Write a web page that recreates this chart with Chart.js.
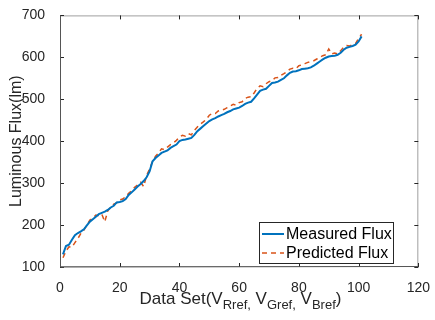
<!DOCTYPE html>
<html>
<head>
<meta charset="utf-8">
<script src="https://cdn.jsdelivr.net/npm/chart.js@4.4.1/dist/chart.umd.min.js"></script>
<style>
  html, body { margin:0; padding:0; background:#fff; }
  #wrap { position:relative; width:435px; height:320px; }
  #xTitle { position:absolute; left:60px; width:361px; top:289px; text-align:center;
    font-family:"Liberation Sans", Arial, sans-serif; font-size:17px; color:#262626; white-space:nowrap; }
  #xTitle sub { font-size:13px; vertical-align:-5px; line-height:0; }
</style>
</head>
<body>
<div id="wrap">
  <canvas id="c" width="435" height="320"></canvas>
  <div id="xTitle">Data Set(V<sub>Rref,</sub> V<sub>Gref,</sub> V<sub>Bref</sub>)</div>
</div>
<script>
// sample index 1..101
const samples = Array.from({length: 101}, (_, i) => i + 1);

const measured = [
  130,150,153,165,176,181,185,190,199,208,
  214,220,226,229,232,236,242,246,254,255,
  257,262,272,278,285,292,298,305,314,328,
  352,360,366,372,375,378,384,388,392,400,
  403,404,406,408,415,424,430,436,442,448,
  452,455,459,462,465,469,472,476,478,480,
  484,489,492,494,502,511,520,523,525,532,
  539,540,542,546,550,557,563,566,567,569,
  572,573,574,576,580,585,590,595,599,602,
  603,604,606,611,618,623,625,627,630,638,
  650
];

const predicted = [
  122,138,148,147,158,168,180,188,200,212,
  216,224,222,226,208,234,242,250,253,260,
  262,268,276,282,290,296,302,292,318,334,
  352,364,372,382,380,386,392,396,402,410,
  414,412,418,415,426,434,441,446,452,462,
  466,466,472,474,476,480,484,488,486,492,
  494,502,505,506,515,526,532,530,537,542,
  544,551,552,557,561,566,572,574,573,580,
  582,585,588,590,592,596,600,604,606,620,
  608,610,608,616,624,628,627,630,633,645,
  655
];

const seriesNames = ['Measured Flux', 'Predicted Flux'];
const xTicks = [0, 20, 40, 60, 80, 100, 120];
const yTicks = [100, 200, 300, 400, 500, 600, 700];

const AXIS = '#262626';
const BOX = '#a0a0a0';
const FONT = '"Liberation Sans", Arial, sans-serif';

// box round the plot with inward ticks, matlab style
const boxPlugin = {
  id: 'boxTicks',
  afterDatasetsDraw(chart) {
    const { ctx, chartArea: a, scales: { x, y } } = chart;
    ctx.save();
    ctx.strokeStyle = BOX;
    ctx.lineWidth = 1;
    ctx.strokeRect(a.left + 0.5, a.top + 0.5, a.right - a.left - 1, a.bottom - a.top - 1);
    ctx.strokeStyle = AXIS;
    ctx.beginPath();
    xTicks.forEach(v => {
      const px = Math.round(x.getPixelForValue(v)) + 0.5;
      ctx.moveTo(px, a.bottom); ctx.lineTo(px, a.bottom - 4);
      ctx.moveTo(px, a.top); ctx.lineTo(px, a.top + 4);
    });
    yTicks.forEach(v => {
      const py = Math.round(y.getPixelForValue(v)) + 0.5;
      ctx.moveTo(a.left, py); ctx.lineTo(a.left + 4, py);
      ctx.moveTo(a.right, py); ctx.lineTo(a.right - 4, py);
    });
    ctx.stroke();
    ctx.strokeStyle = '#555';
    ctx.beginPath();
    ctx.moveTo(a.left + 0.5, a.top); ctx.lineTo(a.left + 0.5, a.bottom);
    ctx.lineTo(a.right, a.bottom - 0.5);
    ctx.stroke();

    // legend box, bottom right
    const lx = 259, ly = 222, lw = 134, lh = 41;
    ctx.fillStyle = '#fff';
    ctx.fillRect(lx, ly, lw, lh);
    ctx.strokeStyle = '#262626';
    ctx.strokeRect(lx + 0.5, ly + 0.5, lw, lh);
    ctx.font = '16px ' + FONT;
    ctx.textBaseline = 'middle';
    chart.data.datasets.forEach((ds, i) => {
      const cy = ly + 12 + i * 19;
      ctx.strokeStyle = ds.borderColor;
      ctx.lineWidth = ds.borderWidth;
      ctx.setLineDash(ds.borderDash || []);
      ctx.beginPath(); ctx.moveTo(lx + 3, cy); ctx.lineTo(lx + 25, cy); ctx.stroke();
      ctx.setLineDash([]);
      ctx.fillStyle = '#000';
      ctx.fillText(ds.label, lx + 27, cy + 1);
    });
    ctx.restore();
  }
};

new Chart(document.getElementById('c'), {
  type: 'line',
  data: {
    datasets: [
      { label: seriesNames[0], data: samples.map((s, i) => ({ x: s, y: measured[i] })),
        borderColor: '#0072BD', borderWidth: 2, pointRadius: 0, tension: 0 },
      { label: seriesNames[1], data: samples.map((s, i) => ({ x: s, y: predicted[i] })),
        borderColor: '#D95319', borderWidth: 1.5, borderDash: [5, 4], pointRadius: 0, tension: 0 }
    ]
  },
  options: {
    responsive: false,
    animation: false,
    layout: { padding: { left: 0, right: 14, top: 12, bottom: 0 } },
    plugins: { legend: { display: false }, tooltip: { enabled: false } },
    scales: {
      x: {
        type: 'linear', min: 0, max: 120,
        afterBuildTicks: s => { s.ticks = xTicks.map(v => ({ value: v })); },
        afterFit: s => { s.height = 53; },
        grid: { display: false },
        border: { display: false },
        ticks: { color: AXIS, font: { family: FONT, size: 14 }, padding: 5, maxRotation: 0 }
      },
      y: {
        min: 100, max: 700,
        afterBuildTicks: s => { s.ticks = yTicks.map(v => ({ value: v })); },
        afterFit: s => { s.width = 60; },
        grid: { display: false },
        border: { display: false },
        title: { display: true, text: 'Luminous Flux(lm)', color: AXIS,
          font: { family: FONT, size: 16 }, padding: { top: 7, bottom: 0 } },
        ticks: { color: AXIS, font: { family: FONT, size: 14 }, padding: 7 }
      }
    }
  },
  plugins: [boxPlugin]
});
</script>
</body>
</html>
